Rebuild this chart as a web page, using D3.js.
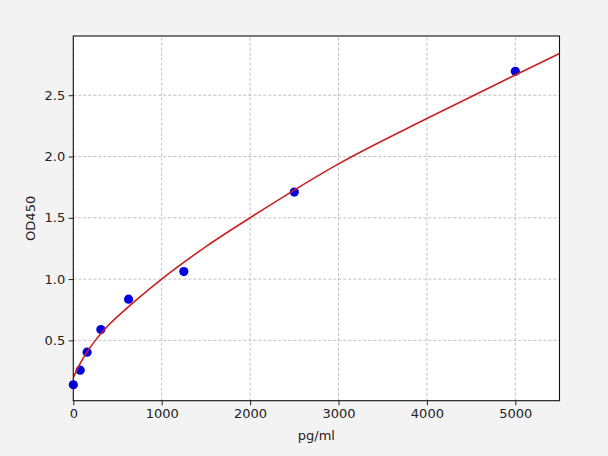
<!DOCTYPE html>
<html>
<head>
<meta charset="utf-8">
<script src="https://cdn.jsdelivr.net/npm/d3@7"></script>
<style>
  html, body { margin: 0; padding: 0; background: #f3f3f3; }
  svg { display: block; }
  text { font-family: "DejaVu Sans", sans-serif; fill: #222; }
</style>
</head>
<body>
<div id="chart"></div>
<script>
// standard points (pg/ml vs OD450)
var concentrations = [0, 78, 156, 312, 625, 1250, 2500, 5000];
var odValues = [0.138, 0.257, 0.404, 0.589, 0.836, 1.061, 1.71, 2.695];

// fitted curve
var curveX = [0, 40, 80, 160, 250, 400, 625, 1000, 1500, 2000, 3000, 4000, 5000, 5500];
var curveY = [0.195, 0.26, 0.315, 0.41, 0.5, 0.625, 0.775, 1.0, 1.265, 1.5, 1.94, 2.31, 2.665, 2.84];

var xTicks = [0, 1000, 2000, 3000, 4000, 5000];
var yTicks = [0.5, 1.0, 1.5, 2.0, 2.5];

var W = 608, H = 456;
var margin = {left: 73.3, right: 48.5, top: 36, bottom: 55.3};

var svg = d3.select("#chart").append("svg")
  .attr("width", W)
  .attr("height", H);

svg.append("rect")
  .attr("width", W)
  .attr("height", H)
  .attr("fill", "#f3f3f3");

var x = d3.scaleLinear().domain([0, 5500]).range([margin.left, W - margin.right]);
var y = d3.scaleLinear().domain([0.008, 2.983]).range([H - margin.bottom, margin.top]);

// plot area
svg.append("rect")
  .attr("x", x(0))
  .attr("y", y(2.983))
  .attr("width", x(5500) - x(0))
  .attr("height", y(0.008) - y(2.983))
  .attr("fill", "white");

// grid
var grid = svg.append("g").attr("stroke", "#b0b0b0").attr("stroke-width", 0.8)
  .attr("stroke-dasharray", "3,2");
grid.selectAll(".gx").data(xTicks).enter().append("line")
  .attr("x1", function(d){ return x(d); })
  .attr("x2", function(d){ return x(d); })
  .attr("y1", y.range()[0])
  .attr("y2", y.range()[1]);
grid.selectAll(".gy").data(yTicks).enter().append("line")
  .attr("x1", x.range()[0])
  .attr("x2", x.range()[1])
  .attr("y1", function(d){ return y(d); })
  .attr("y2", function(d){ return y(d); });

// curve
var pts = curveX.map(function(d, i){ return [d, curveY[i]]; });
var line = d3.line()
  .x(function(d){ return x(d[0]); })
  .y(function(d){ return y(d[1]); })
  .curve(d3.curveMonotoneX);

var clip = svg.append("defs").append("clipPath").attr("id", "clip");
clip.append("rect")
  .attr("x", x(0))
  .attr("y", y(2.983))
  .attr("width", x(5500) - x(0))
  .attr("height", y(0.008) - y(2.983));

// points
svg.append("g").selectAll("circle")
  .data(concentrations)
  .enter().append("circle")
  .attr("cx", function(d){ return x(d); })
  .attr("cy", function(d, i){ return y(odValues[i]); })
  .attr("r", 4.6)
  .attr("fill", "#0000e0");

svg.append("path")
  .attr("d", line(pts))
  .attr("clip-path", "url(#clip)")
  .attr("fill", "none")
  .attr("stroke", "#cc1f1f")
  .attr("stroke-width", 1.6);

// axes
var xAxis = d3.axisBottom(x).tickValues(xTicks).tickFormat(d3.format("d"))
  .tickSizeOuter(0).tickSize(4.6).tickPadding(3.5);
var yAxis = d3.axisLeft(y).tickValues(yTicks).tickFormat(d3.format(".1f"))
  .tickSizeOuter(0).tickSize(4.6).tickPadding(3.5);

var gx = svg.append("g")
  .attr("transform", "translate(0," + y.range()[0] + ")")
  .call(xAxis);
var gy = svg.append("g")
  .attr("transform", "translate(" + x.range()[0] + ",0)")
  .call(yAxis);

[gx, gy].forEach(function(g){
  g.select(".domain").remove();
  g.selectAll(".tick line").attr("stroke", "#222").attr("stroke-width", 1);
  g.selectAll(".tick text")
    .style("font-family", "DejaVu Sans, sans-serif")
    .style("font-size", "13px")
    .attr("fill", "#222");
});

// frame
svg.append("rect")
  .attr("x", x(0))
  .attr("y", y(2.983))
  .attr("width", x(5500) - x(0))
  .attr("height", y(0.008) - y(2.983))
  .attr("fill", "none")
  .attr("stroke", "#111")
  .attr("stroke-width", 1.1);

// labels
svg.append("text")
  .attr("x", (x.range()[0] + x.range()[1]) / 2)
  .attr("y", 440)
  .attr("text-anchor", "middle")
  .style("font-size", "13px")
  .text("pg/ml");

svg.append("text")
  .attr("transform", "translate(35," + ((y.range()[0] + y.range()[1]) / 2) + ") rotate(-90)")
  .attr("text-anchor", "middle")
  .style("font-size", "13px")
  .text("OD450");
</script>
</body>
</html>
